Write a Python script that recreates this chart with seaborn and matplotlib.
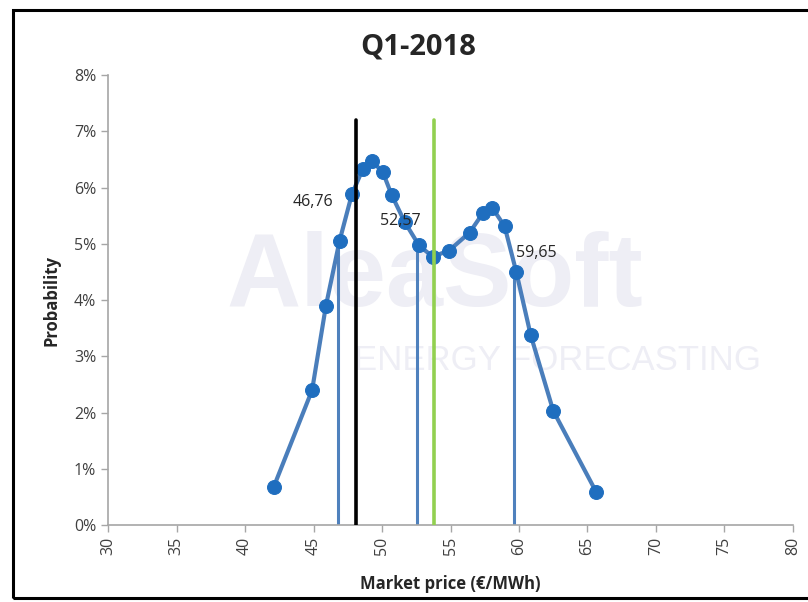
"""Q1-2018 market price probability distribution"""

import matplotlib
matplotlib.use("Agg")
import matplotlib.pyplot as plt
from matplotlib.patches import Rectangle
from matplotlib.ticker import PercentFormatter
import seaborn as sns
import pandas as pd

# Price levels (EUR/MWh) and their probability (%)
prices = [42.1, 44.9, 45.9, 46.9, 47.8, 48.6, 49.25, 50.05, 50.7, 51.65,
          52.7, 53.7, 54.9, 56.4, 57.35, 58.05, 58.95, 59.8, 60.85, 62.5, 65.65]
probability = [0.68, 2.40, 3.89, 5.05, 5.88, 6.33, 6.47, 6.28, 5.87, 5.39,
               4.97, 4.77, 4.88, 5.20, 5.54, 5.64, 5.31, 4.50, 3.38, 2.03, 0.58]

# Quantile markers with labels
quantiles = [46.76, 52.57, 59.65]
quantile_height = [5.05, 4.97, 4.50]
quantile_labels = ["46,76", "52,57", "59,65"]

# Reference lines (black and green)
ref_prices = [48.1, 53.8]
ref_colors = ["black", "#92d050"]
ref_height = 7.2

df = pd.DataFrame({"price": prices, "prob": probability})

sns.set_style("white")
plt.rcParams["font.family"] = ["Open Sans", "DejaVu Sans"]

fig = plt.figure(figsize=(8.08, 6.02), dpi=100)
ax = fig.add_axes([0.1337, 0.1279, 0.8477, 0.7475])

# Watermark
wm = "#eeeef5"
ax.text(0.477, 0.545, "AleaSoft", transform=ax.transAxes, ha="center", va="center",
        fontsize=74, fontweight="bold", color=wm, zorder=0, family="Liberation Sans")
ax.text(0.656, 0.365, "ENERGY FORECASTING", transform=ax.transAxes, ha="center",
        va="center", fontsize=25, color=wm, zorder=0, family="Liberation Sans")

# Quantile lines
for q, h in zip(quantiles, quantile_height):
    ax.plot([q, q], [0, h], color="#4f81bd", lw=2.2, zorder=2)
for p, c in zip(ref_prices, ref_colors):
    ax.plot([p, p], [0, ref_height], color=c, lw=2.6, zorder=4)

sns.lineplot(data=df, x="price", y="prob", ax=ax, color="#4a7ebb", lw=3,
             marker="o", markersize=10, markerfacecolor="#1f6ebf",
             markeredgecolor="#1f6ebf", zorder=3)

# Quantile labels
ax.annotate(quantile_labels[0], xy=(quantiles[0], quantile_height[0]), xytext=(-3, 22),
            textcoords="offset points", ha="right", va="bottom", fontsize=11.5)
ax.annotate(quantile_labels[1], xy=(quantiles[1], quantile_height[1]), xytext=(-12, 12),
            textcoords="offset points", ha="center", va="bottom", fontsize=11.5)
ax.annotate(quantile_labels[2], xy=(quantiles[2], quantile_height[2]), xytext=(1, 8),
            textcoords="offset points", ha="left", va="bottom", fontsize=11.5)

ax.set_xlim(30, 80)
ax.set_ylim(0, 8)
ax.set_xticks(range(30, 81, 5))
ax.set_yticks(range(0, 9))
ax.yaxis.set_major_formatter(PercentFormatter(decimals=0))
ax.tick_params(axis="x", labelrotation=90)
ax.tick_params(direction="out", length=5, width=1, color="#a6a6a6",
               labelsize=11.5, labelcolor="#404040", bottom=True, left=True)
for s in ["top", "right"]:
    ax.spines[s].set_visible(False)
for s in ["left", "bottom"]:
    ax.spines[s].set_color("#a6a6a6")
    ax.spines[s].set_linewidth(1.2)

ax.set_xlabel("Market price (€/MWh)", fontsize=12, fontweight="bold", labelpad=14)
ax.set_ylabel("Probability", fontsize=12, fontweight="bold", labelpad=10)
fig.text(0.517, 0.922, "Q1-2018", ha="center", va="center", fontsize=21, fontweight="bold")

# Frame around the chart
fig.patches.append(Rectangle((13 / 808, 4 / 602), 1.2, 1 - 14 / 602, transform=fig.transFigure,
                             fill=False, edgecolor="black", lw=2.2))

fig.savefig("out.png", dpi=100)
